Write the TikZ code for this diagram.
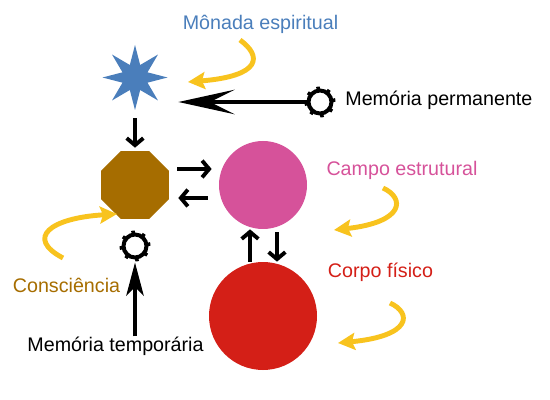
\documentclass[tikz,border=0pt]{standalone}
\usepackage{fontspec}
\setmainfont{Liberation Sans}
\usetikzlibrary{shapes.geometric, arrows.meta}
\definecolor{monadaBlue}{HTML}{4A7EBB}
\definecolor{octoBrown}{HTML}{A66D00}
\definecolor{campoPink}{HTML}{D6529A}
\definecolor{corpoRed}{HTML}{D41F17}
\definecolor{curveGold}{HTML}{F8C31E}
\tikzstyle{starShape} = [star, star points=8, star point ratio=2.4, fill=monadaBlue,
	inner sep=0pt, minimum size=1.3cm]
\tikzstyle{octoShape} = [regular polygon, regular polygon sides=8, fill=octoBrown,
	inner sep=0pt, minimum size=1.47cm]
\tikzstyle{ballShape} = [circle, inner sep=0pt]
\tikzstyle{gearRing} = [circle, draw=black, line width=0.08cm, fill=white,
	inner sep=0pt, minimum size=0.46cm]
\tikzstyle{gearTeeth} = [line width=0.06cm, dash pattern=on 2pt off 4.25pt]
\tikzstyle{labelText} = [font=\fontsize{11.2}{13}\selectfont, inner sep=0pt]
\tikzstyle{smallArrow} = [line width=2.2pt, -{Straight Barb[length=4pt, width=9.5pt]}]
\tikzstyle{longArrow} = [line width=1.8pt, -{Stealth[length=32pt, width=14pt, inset=14pt]}]
\tikzstyle{upArrow} = [line width=1.9pt, -{Stealth[length=19pt, width=10pt, inset=5pt]}]
\tikzstyle{curveArrow} = [draw=curveGold, line width=2.8pt,
	-{Stealth[length=0.34cm, width=0.34cm, inset=0.06cm]}]

\begin{document}
\begin{tikzpicture}[node distance=1.5cm]
  \useasboundingbox (0,0) rectangle (11,-8);

  \node (MONADA) [starShape] at (2.70,-1.55) {};
  \node (CONSC) [octoShape, below of=MONADA, yshift=-0.65cm] {};
  \node (CAMPO) [ballShape, fill=campoPink, minimum size=1.76cm, right of=CONSC, xshift=1.06cm] {};
  \node (CORPO) [ballShape, fill=corpoRed, minimum size=2.16cm, below of=CAMPO, yshift=-1.12cm] {};
  \node (PERM) [gearRing, right of=MONADA, xshift=2.2cm, yshift=-0.49cm] {};
  \node (TEMP) [gearRing, below of=CONSC, yshift=0.28cm] {};

  \node (MONADAtxt) [labelText, text=monadaBlue, above of=MONADA, xshift=2.51cm, yshift=-0.43cm] {Mônada espiritual};
  \node (PERMtxt) [labelText, right of=PERM, anchor=west, xshift=-1.0cm, yshift=0.04cm] {Memória permanente};
  \node (CAMPOtxt) [labelText, text=campoPink, right of=CAMPO, xshift=1.28cm, yshift=0.30cm] {Campo estrutural};
  \node (CORPOtxt) [labelText, text=corpoRed, right of=CORPO, xshift=0.85cm, yshift=0.88cm] {Corpo físico};
  \node (CONSCtxt) [labelText, text=octoBrown, left of=TEMP, xshift=0.13cm, yshift=-0.78cm] {Consciência};
  \node (TEMPtxt) [labelText, below of=TEMP, xshift=-0.39cm, yshift=-0.50cm] {Memória temporária};

  \draw [gearTeeth] (PERM.center) circle (0.28cm);
  \draw [gearTeeth] (TEMP.center) circle (0.28cm);

  \draw [smallArrow, shorten <=0.14cm, shorten >=0.06cm] (MONADA) -- (CONSC);
  \draw [smallArrow, shorten <=0.16cm, shorten >=0.14cm] ([yshift=0.32cm]CONSC.east) -- ([yshift=0.32cm]CAMPO.west);
  \draw [smallArrow, shorten <=0.22cm, shorten >=0.18cm] ([yshift=-0.26cm]CAMPO.west) -- ([yshift=-0.26cm]CONSC.east);
  \draw [smallArrow] ([xshift=-0.26cm]CORPO.north) -- ([xshift=-0.26cm]CAMPO.south);
  \draw [smallArrow, shorten <=0.06cm] ([xshift=0.28cm]CAMPO.south) -- ([xshift=0.28cm]CORPO.north);
  \draw [longArrow, shorten >=0.19cm] (PERM) -- (PERM -| MONADA.east);
  \draw [upArrow, shorten >=0.06cm] (TEMPtxt.north -| TEMP) -- (TEMP);

  \draw [curveArrow] (4.80,-0.80) .. controls (5.24,-1.12) and (5.24,-1.52) .. (3.76,-1.64);
  \draw [curveArrow] (7.66,-3.76) .. controls (8.10,-3.96) and (8.10,-4.44) .. (6.68,-4.60);
  \draw [curveArrow] (7.80,-6.06) .. controls (8.24,-6.26) and (8.24,-6.72) .. (6.76,-6.86);
  \draw [curveArrow] (1.26,-5.16) .. controls (0.50,-4.76) and (1.00,-4.36) .. (2.34,-4.28);

\end{tikzpicture}
\end{document}
